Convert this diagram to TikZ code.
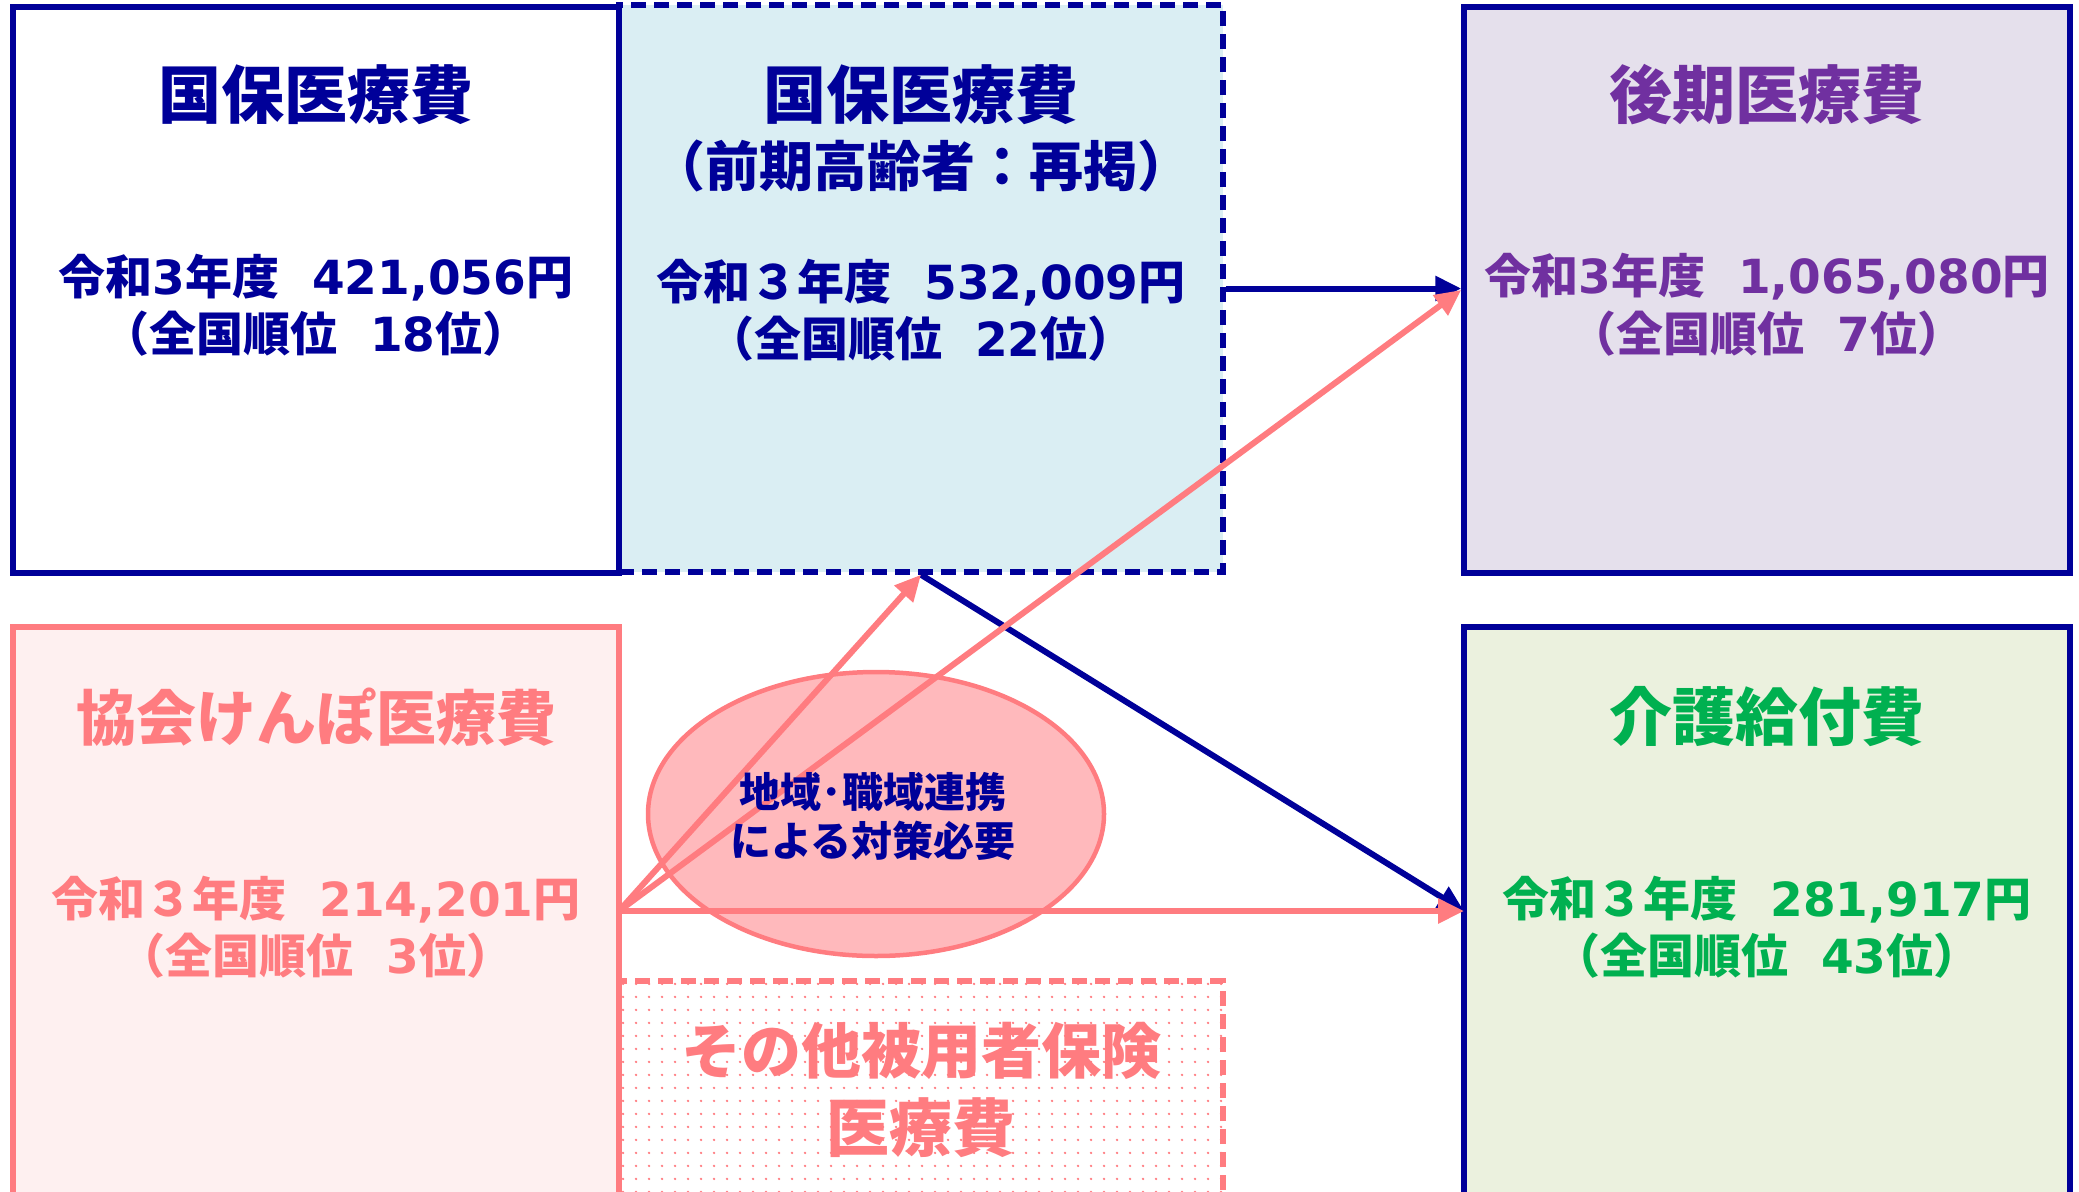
\documentclass[tikz,border=0pt]{standalone}
\usepackage{fontspec}
\setmainfont{Noto Sans CJK JP}
\newfontfamily\lat{DejaVu Sans}
\usetikzlibrary{arrows.meta,shapes.geometric,patterns.meta}
\definecolor{navy}{HTML}{000099}
\definecolor{ltblue}{HTML}{DAEEF3}
\definecolor{purp}{HTML}{7030A0}
\definecolor{lav}{HTML}{E5E0EC}
\definecolor{kpink}{HTML}{FF7C80}
\definecolor{pinkbg}{HTML}{FEF0F0}
\definecolor{grn}{HTML}{00B050}
\definecolor{grnbg}{HTML}{EBF1DE}
\definecolor{ellfill}{HTML}{FFB9BC}
\newcommand{\dg}[1]{{\lat\bfseries #1}}
\tikzset{
  panel/.style={draw=navy, line width=5.5pt, inner sep=0pt, minimum width=606pt},
  ttl/.style={font=\bfseries\fontsize{63}{70}\selectfont, inner sep=0pt},
  ttlb/.style={font=\bfseries\fontsize{60}{70}\selectfont, inner sep=0pt},
  sub/.style={font=\bfseries\fontsize{54}{60}\selectfont, inner sep=0pt},
  amt/.style={font=\bfseries\fontsize{47}{54}\selectfont, inner sep=0pt},
  elltxt/.style={font=\bfseries\fontsize{41}{46}\selectfont, inner sep=0pt, text=navy},
  tip/.style={-{Triangle[length=26pt,width=24pt]}},
  navyarrow/.style={draw=navy, line width=6pt, tip},
  pinkarrow/.style={draw=kpink, line width=6pt, tip},
}
\begin{document}
\begin{tikzpicture}[x=1pt,y=-1pt]
\useasboundingbox (0,0) rectangle (2079,1191);
\clip (0,0) rectangle (2079,1191);
% panels
\node[panel, fill=ltblue, dash pattern=on 15pt off 8pt, minimum width=604pt, minimum height=567pt] (zenki) at (921,288.5) {};
\node[panel, fill=white, minimum height=566pt] (kokuho) at (316,290) {};
\node[panel, fill=lav, minimum height=566pt] (kouki) at (1767,290) {};
\node[panel, draw=kpink, fill=pinkbg, minimum height=603pt] (kyokai) at (316,928.5) {};
\node[panel, draw=kpink, dash pattern=on 15pt off 8pt, pattern={Dots[radius=1.4pt,distance=13pt]}, pattern color=kpink, minimum width=604pt, minimum height=249pt] (sonota) at (921,1105.5) {};
\node[panel, fill=grnbg, minimum height=603pt] (kaigo) at (1767,928.5) {};
% ellipse
\node[ellipse, draw=kpink, fill=ellfill, line width=4.5pt, minimum width=456pt, minimum height=284pt, inner sep=0pt] (renkei) at (876,814) {};
% ports
\coordinate (src) at (619,911);
\coordinate (kaigoin) at (1464,911);
% arrows
\draw[navyarrow] (zenki.east) -- (zenki.east -| kouki.west);
\draw[navyarrow] (zenki.south) -- (kaigoin);
\draw[pinkarrow] (src) -- (zenki.south);
\draw[pinkarrow] (src) -- (kouki.west);
\draw[pinkarrow] (src) -- (kaigoin);
% texts box1
\node[ttl, text=navy] (t1) at (316,95) {国保医療費};
\node[amt, text=navy] (a1) at (316,278) {令和\dg{3}年度\hspace{0.7em}\dg{421,056}円};
\node[amt, text=navy] (r1) at (316,334) {（全国順位\hspace{0.7em}\dg{18}位）};
% box2
\node[ttl, text=navy] (t2) at (921,95) {国保医療費};
\node[sub, text=navy] (s2) at (921,166) {（前期高齢者：再掲）};
\node[amt, text=navy] (a2) at (921,283) {令和３年度\hspace{0.7em}\dg{532,009}円};
\node[amt, text=navy] (r2) at (921,339) {（全国順位\hspace{0.7em}\dg{22}位）};
% box3
\node[ttl, text=purp] (t3) at (1767,95) {後期医療費};
\node[amt, text=purp] (a3) at (1767,277) {令和\dg{3}年度\hspace{0.7em}\dg{1,065,080}円};
\node[amt, text=purp] (r3) at (1767,334) {（全国順位\hspace{0.7em}\dg{7}位）};
% box4
\node[ttlb, text=kpink] (t4) at (316,717) {協会けんぽ医療費};
\node[amt, text=kpink] (a4) at (316,900) {令和３年度\hspace{0.7em}\dg{214,201}円};
\node[amt, text=kpink] (r4) at (316,956) {（全国順位\hspace{0.7em}\dg{3}位）};
% box6
\node[ttl, text=grn] (t6) at (1767,717) {介護給付費};
\node[amt, text=grn] (a6) at (1767,900) {令和３年度\hspace{0.7em}\dg{281,917}円};
\node[amt, text=grn] (r6) at (1767,956) {（全国順位\hspace{0.7em}\dg{43}位）};
% box5
\node[ttlb, text=kpink] (t5) at (921,1051) {その他被用者保険};
\node[ttl, text=kpink] (t5b) at (921,1128) {医療費};
% ellipse text
\node[elltxt] (e1) at (873,792) {地域･職域連携};
\node[elltxt] (e2) at (873,841) {による対策必要};
\end{tikzpicture}
\end{document}
